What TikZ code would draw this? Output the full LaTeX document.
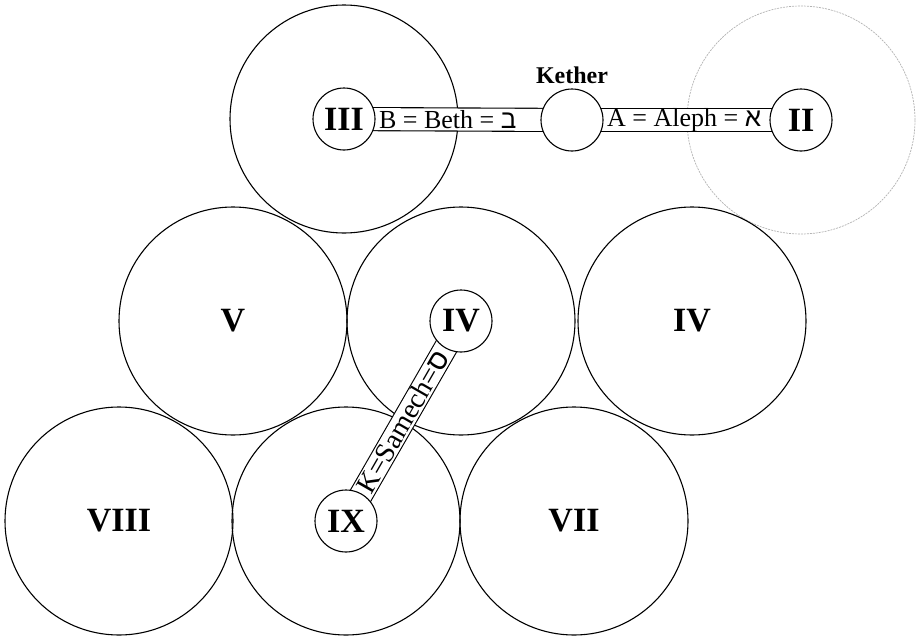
\documentclass[tikz,border=0pt]{standalone}
\usepackage{fontspec}
\setmainfont{Liberation Serif}
\newfontfamily\hebfont[Script=Hebrew]{Liberation Sans}
\usetikzlibrary{positioning,backgrounds}
\begin{document}
\begin{tikzpicture}[x=1pt,y=-1pt,line join=round,line cap=round,line width=1.1pt,
	sphere/.style={draw,circle,line width=1.1pt,minimum size=228pt,inner sep=0pt,font=\fontsize{34}{34}\selectfont\bfseries},
	seat/.style={draw,circle,line width=1.1pt,fill=white,minimum size=62pt,inner sep=0pt,font=\fontsize{34}{34}\selectfont\bfseries},
	channel/.style={double,double distance=22pt,line width=1.1pt},
	lettering/.style={inner xsep=3pt,inner ysep=0pt,font=\fontsize{26}{26}\selectfont}]
	\useasboundingbox (0,0) rectangle (918,637);
	% the spheres
	\begin{scope}[on background layer]
	\node[sphere] (s3) at (344,119) {};
	\node[sphere,draw=gray!60,line width=0.7pt,dash pattern=on 2pt off 1pt] (s2) at (801,120) {};
	\node[sphere] (s5) at (233,321) {V};
	\node[sphere] (s4) at (461,321) {};
	\node[sphere] (s4r) at (692,321) {IV};
	\node[sphere] (s8) at (119,521) {VIII};
	\node[sphere] (s9) at (346,521) {};
	\node[sphere] (s7) at (574,521) {VII};
	\end{scope}
	% small seats
	\node[seat] (iii) at (s3) {III};
	\node[seat] (kether) at (572,120) {};
	\node[seat] (ii) at (s2) {II};
	\node[seat] (iv) at (s4) {IV};
	\node[seat] (ix) at (s9) {IX};
	\node[above=1pt of kether,font=\fontsize{24}{24}\selectfont\bfseries] (ketherlabel) {Kether};
	% the paths between them
	\begin{scope}[on background layer]
	\draw[channel] (iii.center)--(kether.center);
	\draw[channel] (kether.center)--(ii.center);
	\draw[channel] (ix.center)--(iv.center);
	\end{scope}
	\path (iii)--(kether) node[lettering,pos=0,anchor=west] (beth) {B = Beth = {\hebfont ב}};
	\path (kether)--(ii) node[lettering,pos=0,anchor=west] (aleph) {A = Aleph = {\hebfont א}};
	\path (ix)--(iv) node[lettering,pos=0,anchor=west,sloped,font=\fontsize{28}{28}\selectfont] (samech) {K=Samech={\hebfont ס}};
\end{tikzpicture}
\end{document}
